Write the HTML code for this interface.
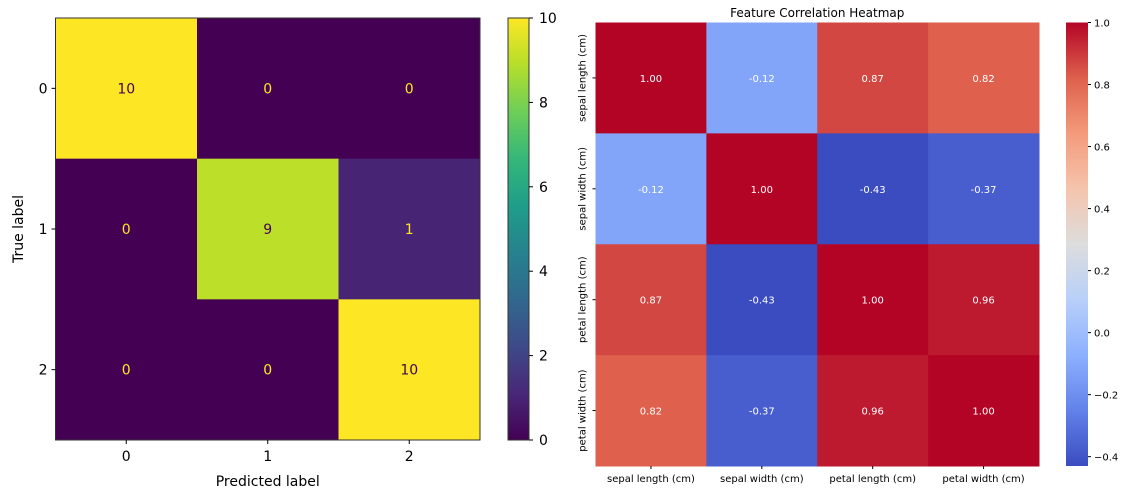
<!DOCTYPE html>
<html><head><meta charset="utf-8"><style>
body{margin:0;background:#fff;}
svg{display:block;font-family:"DejaVu Sans","Liberation Sans",sans-serif;}
</style></head><body>
<svg id="s" width="1139" height="500" viewBox="0 0 1139 500"></svg>
<script>
const cmClasses = ["0","1","2"];
const cmValues = [[10,0,0],[0,9,1],[0,0,10]];
const cmTicks = [0,2,4,6,8,10];
const features = ["sepal length (cm)","sepal width (cm)","petal length (cm)","petal width (cm)"];
const corrValues = [[1.00,-0.12,0.87,0.82],[-0.12,1.00,-0.43,-0.37],[0.87,-0.43,1.00,0.96],[0.82,-0.37,0.96,1.00]];
const corrTicks = [-0.4,-0.2,0.0,0.2,0.4,0.6,0.8,1.0];

const NS="http://www.w3.org/2000/svg", svg=document.getElementById('s');
function el(t,a,txt,p){const e=document.createElementNS(NS,t);for(const k in a)e.setAttribute(k,a[k]);if(txt!=null)e.textContent=txt;(p||svg).appendChild(e);return e;}
function interp(stops,t){t=Math.max(0,Math.min(1,t));const n=stops.length-1;const i=Math.min(n-1,Math.floor(t*n));const f=t*n-i;const a=stops[i],b=stops[i+1];return `rgb(${a.map((v,k)=>Math.round(v+(b[k]-v)*f)).join(',')})`;}
const viridis=[[68,1,84],[72,40,120],[62,74,137],[49,104,142],[38,130,142],[31,158,137],[53,183,121],[110,206,88],[181,222,43],[253,231,37]];
const coolwarm=[[59,76,192],[98,130,234],[141,176,254],[184,208,249],[221,221,221],[245,196,173],[244,154,123],[222,96,77],[180,4,38]];

// ---- Confusion matrix
const L={x0:55.5,x1:480,y0:18,y1:440};
const cw=(L.x1-L.x0)/3, ch=(L.y1-L.y0)/3;
const cmX=i=>L.x0+i*cw, cmY=i=>L.y0+i*ch, cmT=v=>v/10;
for(let r=0;r<3;r++)for(let c=0;c<3;c++){
  const v=cmValues[r][c];
  const rc=el('rect',{x:cmX(c),y:cmY(r),width:cw+0.5,height:ch+0.5,fill:interp(viridis,cmT(v))});
  
  
  const t=el('text',{x:cmX(c)+cw/2,y:cmY(r)+ch/2+5,'text-anchor':'middle','font-size':14,fill:v>5?'#440154':'#fde725'},v);
  
  
}
el('rect',{x:L.x0,y:L.y0,width:L.x1-L.x0,height:L.y1-L.y0,fill:'none',stroke:'#333','stroke-width':1,});
cmClasses.forEach((c,i)=>{
  const x=cmX(i)+cw/2, y=cmY(i)+ch/2;
  el('line',{x1:x,x2:x,y1:L.y1,y2:L.y1+4,stroke:'#000'});
  const a=el('text',{x:x,y:L.y1+21,'text-anchor':'middle','font-size':14},c);
  
  
  el('line',{x1:L.x0-4,x2:L.x0,y1:y,y2:y,stroke:'#000'});
  const b=el('text',{x:L.x0-8,y:y+5,'text-anchor':'end','font-size':14},c);
  
  
});
el('text',{x:(L.x0+L.x1)/2,y:486,'text-anchor':'middle','font-size':14,},'Predicted label');
el('text',{x:0,y:0,transform:`translate(23,${(L.y0+L.y1)/2}) rotate(-90)`,'text-anchor':'middle','font-size':14,},'True label');
// colorbar
const cb={x:508,w:21,y0:18,y1:440};
const g1=el('defs',{});
const lg=el('linearGradient',{id:'vg',x1:0,y1:1,x2:0,y2:0},null,g1);
viridis.forEach((s,i)=>el('stop',{offset:i/(viridis.length-1),'stop-color':`rgb(${s})`},null,lg));
el('rect',{x:cb.x,y:cb.y0,width:cb.w,height:cb.y1-cb.y0,fill:'url(#vg)',stroke:'#333',});
const cbY=v=>cb.y1-(v/10)*(cb.y1-cb.y0);
cmTicks.forEach(v=>{
  el('line',{x1:cb.x+cb.w,x2:cb.x+cb.w+4,y1:cbY(v),y2:cbY(v),stroke:'#000'});
  const t=el('text',{x:cb.x+cb.w+10,y:cbY(v)+5,'font-size':14},v);
  
  
});

// ---- Correlation heatmap
const R={x0:595.5,x1:1039,y0:22.5,y1:466};
const hw=(R.x1-R.x0)/4, hh=(R.y1-R.y0)/4;
const vmin=-0.43, vmax=1.0;
const hX=i=>R.x0+i*hw, hY=i=>R.y0+i*hh, hT=v=>(v-vmin)/(vmax-vmin);
for(let r=0;r<4;r++)for(let c=0;c<4;c++){
  const v=corrValues[r][c];
  const rc=el('rect',{x:hX(c),y:hY(r),width:hw+0.5,height:hh+0.5,fill:interp(coolwarm,hT(v))});
  
  
  const t=el('text',{x:hX(c)+hw/2,y:hY(r)+hh/2+4,'text-anchor':'middle','font-size':10,fill:'#fff'},v.toFixed(2));
  
  
}
features.forEach((f,i)=>{
  const x=hX(i)+hw/2, y=hY(i)+hh/2;
  el('line',{x1:x,x2:x,y1:R.y1,y2:R.y1+3,stroke:'#000'});
  const a=el('text',{x:x,y:R.y1+16,'text-anchor':'middle','font-size':10},f);
  
  
  el('line',{x1:R.x0-3,x2:R.x0,y1:y,y2:y,stroke:'#000'});
  const b=el('text',{x:0,y:0,transform:`translate(${R.x0-10},${y}) rotate(-90)`,'text-anchor':'middle','font-size':10},f);
  
  
});
el('text',{x:(R.x0+R.x1)/2,y:17,'text-anchor':'middle','font-size':12,},'Feature Correlation Heatmap');
const cb2={x:1066,w:22,y0:22.5,y1:466};
const lg2=el('linearGradient',{id:'cg',x1:0,y1:1,x2:0,y2:0},null,g1);
coolwarm.forEach((s,i)=>el('stop',{offset:i/(coolwarm.length-1),'stop-color':`rgb(${s})`},null,lg2));
el('rect',{x:cb2.x,y:cb2.y0,width:cb2.w,height:cb2.y1-cb2.y0,fill:'url(#cg)',});
const cb2Y=v=>cb2.y1-hT(v)*(cb2.y1-cb2.y0);
corrTicks.forEach(v=>{
  el('line',{x1:cb2.x+cb2.w,x2:cb2.x+cb2.w+3,y1:cb2Y(v),y2:cb2Y(v),stroke:'#000'});
  const t=el('text',{x:cb2.x+cb2.w+6,y:cb2Y(v)+4,'font-size':10},(v<0?'\u2212':'')+Math.abs(v).toFixed(1));
  
  
});
</script>
</body></html>
